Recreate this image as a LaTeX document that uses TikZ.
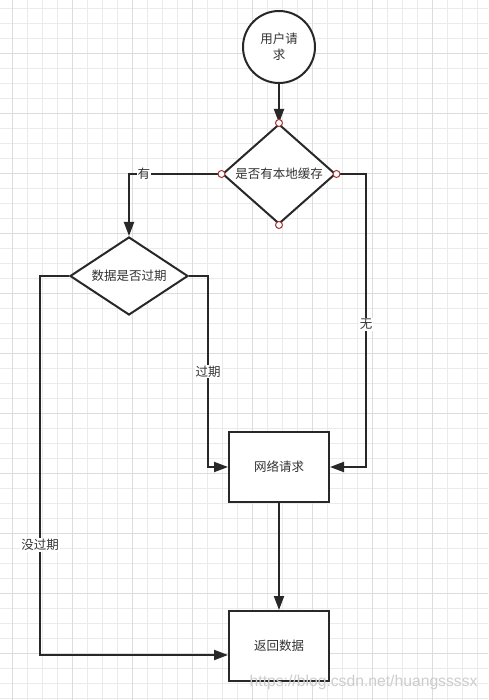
\documentclass[tikz,border=0pt]{standalone}
\usepackage{fontspec}
\setmainfont{Noto Sans CJK SC}
\newfontfamily\wmfont{Liberation Sans}
\usetikzlibrary{arrows.meta,positioning,shapes.geometric,calc}

\definecolor{inkline}{HTML}{282828}
\definecolor{inktext}{HTML}{333333}
\definecolor{gridmin}{HTML}{EBEBEB}
\definecolor{gridmaj}{HTML}{DCDCDC}
\definecolor{portred}{HTML}{A83232}
\definecolor{wmgray}{HTML}{CDCDCD}

\begin{document}
\begin{tikzpicture}[
  x=1pt, y=-1pt,
  >={Triangle[length=14pt,width=10pt]},
  txt/.style={font=\fontsize{12.5}{16}\selectfont, text=inktext},
  term/.style={draw=inkline, line width=2pt, circle, fill=white, minimum size=72pt, inner sep=0pt, align=center, txt},
  decide/.style={draw=inkline, line width=2pt, diamond, fill=white, inner sep=0pt, txt},
  proc/.style={draw=inkline, line width=2pt, rectangle, fill=white, minimum width=100pt, minimum height=70pt, txt},
  wire/.style={draw=inkline, line width=2pt},
  lab/.style={fill=white, inner sep=1pt, txt},
  port/.style={draw=portred, fill=white, line width=1pt}
]

% Canvas and grid
\useasboundingbox (0,0) rectangle (488,700);
\fill[white] (0,0) rectangle (488,700);
\foreach \gx in {12.3,27.3,...,488} \draw[gridmin, line width=1pt] (\gx,0) -- (\gx,700);
\foreach \gy in {8.3,23.3,...,700} \draw[gridmin, line width=1pt] (0,\gy) -- (488,\gy);
\foreach \gx in {12.3,72.3,...,488} \draw[gridmaj, line width=1pt] (\gx,0) -- (\gx,700);
\foreach \gy in {53.3,113.3,...,700} \draw[gridmaj, line width=1pt] (0,\gy) -- (488,\gy);

% Start node
\node[term] (start) at (279,47) {用户请\\求};

% Decision nodes
\node[decide, aspect=1.13, minimum width=113pt, minimum height=100pt] (cache) at (279,174) {是否有本地缓存};
\node[decide, aspect=2, minimum width=118pt, minimum height=78pt] (expired) at (129,276) {数据是否过期};

% Process nodes
\node[proc] (net) at (279,467) {网络请求};
\node[proc] (ret) at (279,646) {返回数据};

% Bend points
\coordinate (cacheR) at (366,174);
\coordinate (expR) at (208,276);
\coordinate (expL) at (40,276);
\coordinate (retIn) at ([yshift=-9pt]ret.west);

% Connectors
\draw[wire, ->] (start) -- (cache);
\draw[wire, ->] (cache.west) -| (expired.north)
  node[lab, pos=0.42] {有};
\draw[wire, ->] (cache.east) -- (cacheR) |- (net.east)
  node[lab, pos=0.257] {无};
\draw[wire, ->] (expired.east) -- (expR) |- (net.west)
  node[lab, pos=0.25] {过期};
\draw[wire, ->] (expired.west) -- (expL) |- (retIn)
  node[lab, pos=0.355] {没过期};
\draw[wire, ->] (net) -- (ret);

% Connection points on the first decision
\foreach \a in {north,south,east,west} \draw[port] (cache.\a) circle (3.5pt);

% Watermark
\node[anchor=west, inner sep=0pt, text=wmgray, font=\wmfont\fontsize{15.7}{16}\selectfont] (mark) at (249.5,682) {https://blog.csdn.net/huangssssx};

\end{tikzpicture}
\end{document}
